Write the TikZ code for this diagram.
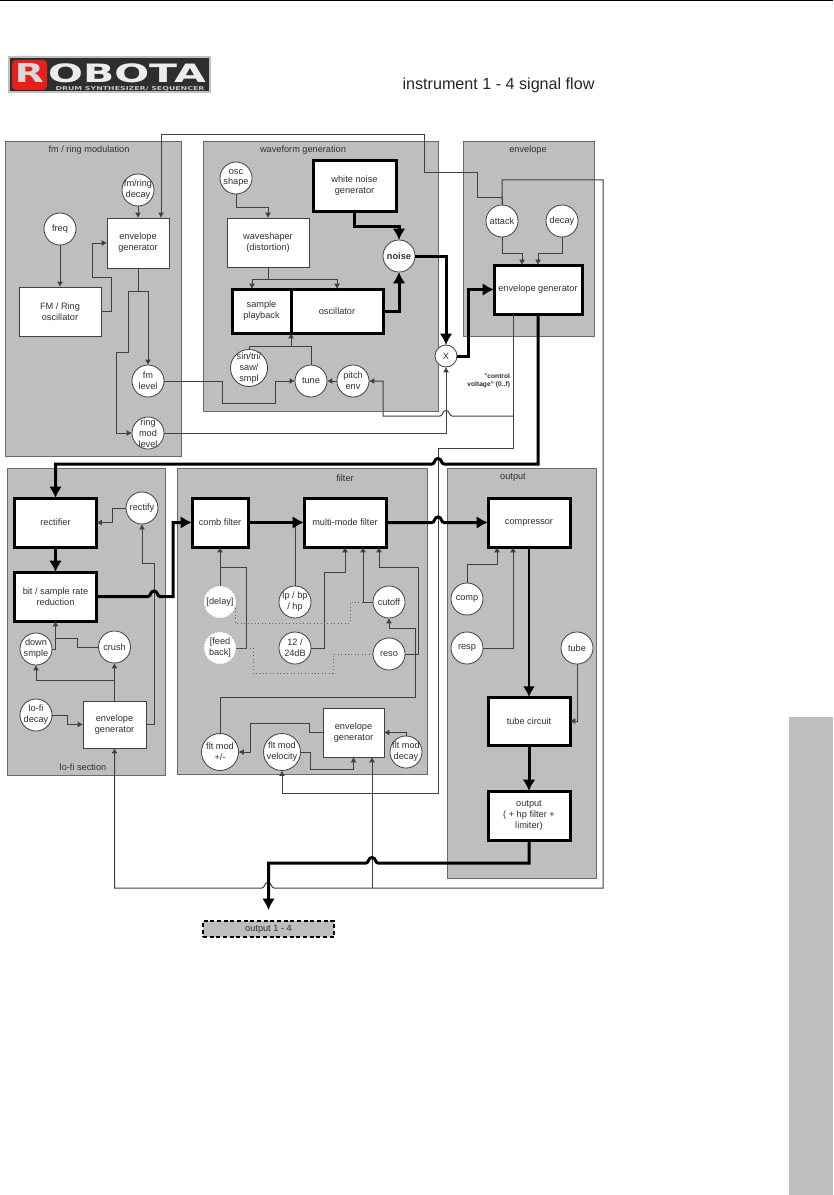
\documentclass[tikz,border=0pt]{standalone}
\usepackage{fontspec}
\setmainfont{Liberation Sans}
\newfontfamily\logofont{DejaVu Sans}
\usepackage{xcolor}
\usetikzlibrary{arrows.meta,shapes.geometric}
\definecolor{robpanel}{HTML}{BEBEBE}
\definecolor{robedge}{HTML}{6A6A6A}
\definecolor{robwire}{HTML}{404040}
\definecolor{robtext}{HTML}{303030}
\definecolor{robtab}{HTML}{BDBEC0}
\definecolor{robred}{HTML}{E8201C}
\definecolor{roblogo}{HTML}{2E2E2E}
\newcommand{\hopright}[2]{-- (#1-6,#2) .. controls (#1-3,#2) and (#1-4,#2-5.5) .. (#1,#2-5.5) .. controls (#1+4,#2-5.5) and (#1+3,#2) .. (#1+6,#2)}
\newcommand{\hopleft}[2]{-- (#1+6,#2) .. controls (#1+3,#2) and (#1+4,#2-5.5) .. (#1,#2-5.5) .. controls (#1-4,#2-5.5) and (#1-3,#2) .. (#1-6,#2)}
\begin{document}
\begin{tikzpicture}[
  x=0.75pt,y=-0.75pt,
  wh/.style 2 args={minimum width=#1*0.75pt,minimum height=#2*0.75pt},
  base/.style={rectangle,align=center,inner sep=0pt,outer sep=0pt,font=\fontsize{6.9}{8.2}\selectfont,text=robtext},
  panel/.style={base,draw=robedge,line width=0.7pt,fill=robpanel},
  caption/.style={base},
  thinbox/.style={base,draw=robwire,line width=0.6pt,fill=white},
  fatbox/.style={base,draw=black,line width=2.25pt,fill=white},
  knob/.style={circle,inner sep=0pt,outer sep=0pt,minimum size=32*0.75pt,draw=robwire,line width=0.6pt,fill=white,
    label={[base,label distance=0pt]center:#1}},
  bigknob/.style={knob={#1},minimum size=37*0.75pt},
  ghostknob/.style={knob={#1},draw=gray!60,dotted},
  wire/.style={draw=robwire,line width=0.75pt},
  wirea/.style={wire,-{Latex[length=4pt,width=4.5pt]}},
  dotwire/.style={draw=robwire!80,line width=0.6pt,dotted},
  fat/.style={draw=black,line width=2.25pt},
  fata/.style={fat,-{Latex[length=8.5pt,width=9.5pt]}},
  mida/.style={draw=black,line width=1.5pt,-{Latex[length=8pt,width=9pt]}}
]
\useasboundingbox (0,0) rectangle (833,1195);
\fill[white] (0,0) rectangle (833,1195);
\draw[black,line width=1.2pt] (0,0.7) -- (833,0.7);
\fill[robtab] (789,717) rectangle (833,1195);

\node[base,wh={201}{35},draw=gray!50,line width=0.8pt,fill=roblogo] (logo) at (109.5,74.5) {};
\node[base,wh={35}{30},fill=robred,rounded corners=3pt] (logored) at (29.5,75) {};
\node[base,font=\logofont\bfseries\fontsize{19.5}{19.5}\selectfont,text=gray!30,xscale=1.45] (logor) at (29.5,73.5) {R};
\node[base,font=\logofont\bfseries\fontsize{19}{19}\selectfont,text=gray!15,xscale=1.62] (logoname) at (127,73) {OBOTA};
\node[base,font=\logofont\bfseries\fontsize{4}{4}\selectfont,text=gray!45,xscale=1.47] (logosub) at (130,89) {DRUM SYNTHESIZER/ SEQUENCER};
\node[base,font=\fontsize{12.1}{13}\selectfont,text=black!85] (title) at (498.5,85) {instrument 1 - 4 signal flow};

\node[panel,wh={176}{315}] (fmpanel) at (93,298.5) {};
\node[panel,wh={235}{270}] (wavepanel) at (320.5,276) {};
\node[panel,wh={131}{195}] (envpanel) at (528.5,238.5) {};
\node[panel,wh={158}{307}] (lofipanel) at (86,621.5) {};
\node[panel,wh={250}{306}] (filterpanel) at (302.5,621) {};
\node[panel,wh={149}{410}] (outpanel) at (521.5,673) {};
\node[caption] (fmcap) at (89,150) {fm / ring modulation};
\node[caption] (wavecap) at (303,150) {waveform generation};
\node[caption] (envcap) at (528,150) {envelope};
\node[caption] (lofitext) at (83,767) {lo-fi section};
\node[caption] (filtercap) at (345,478) {filter};
\node[caption] (outcap) at (513,477) {output};

\node[knob={fm/ring\\decay}] (fmdecay) at (138,190) {};
\node[knob={freq}] (freq) at (60,229) {};
\node[thinbox,wh={62}{50}] (fmenv) at (138,243) {envelope\\generator};
\node[thinbox,wh={82}{49}] (fmosc) at (60,311.5) {FM / Ring\\oscillator};
\node[knob={fm\\level}] (fmlevel) at (148,381) {};
\node[knob={ring\\mod\\level}] (ringlevel) at (148,433) {};

\node[knob={osc\\shape}] (oscshape) at (236,178) {};
\node[thinbox,wh={82}{49}] (waveshaper) at (268,242.5) {waveshaper\\(distortion)};
\node[fatbox,wh={83}{50}] (whitenoise) at (354.5,186) {white noise\\generator};
\node[knob={\textbf{noise}}] (noise) at (399,256) {};
\node[fatbox,wh={59}{44}] (sample) at (261.5,311) {sample\\playback};
\node[fatbox,wh={92}{44}] (osc) at (337,311) {oscillator};
\node[bigknob={sin/tri/\\saw/\\smpl}] (sintri) at (249,368) {};
\node[knob={tune}] (tune) at (311,381) {};
\node[knob={pitch\\env}] (pitchenv) at (353,381) {};
\node[knob={X},minimum size=22*0.75pt] (xmix) at (446,356) {};

\node[knob={attack}] (attack) at (502,221) {};
\node[knob={decay}] (decay) at (562,221) {};
\node[fatbox,wh={88}{49}] (envmain) at (538,289.5) {envelope generator};
\node[base,align=right,anchor=east,font=\fontsize{5}{6.2}\selectfont\bfseries] (cvtext) at (510,381) {"control\\voltage" (0..f)};

\node[fatbox,wh={82}{49}] (rectifier) at (55.5,522.5) {rectifier};
\node[fatbox,wh={82}{49}] (bitred) at (55.5,596.5) {bit / sample rate\\reduction};
\node[knob={rectify}] (rectify) at (142,508) {};
\node[knob={down\\smple}] (downsmp) at (36,649) {};
\node[knob={crush}] (crush) at (114.5,647) {};
\node[knob={lo-fi\\decay}] (lofidecay) at (36,715) {};
\node[thinbox,wh={63}{47}] (lofienv) at (114.5,724.5) {envelope\\generator};

\node[fatbox,wh={56}{49}] (comb) at (220,522.5) {comb filter};
\node[fatbox,wh={82}{49}] (multi) at (345,522.5) {multi-mode filter};
\node[ghostknob={[delay]}] (delay) at (220,602) {};
\node[ghostknob={[feed\\back]}] (feedback) at (220,648) {};
\node[knob={lp / bp\\/ hp}] (lpbp) at (295,602) {};
\node[knob={12 /\\24dB}] (slope) at (295,648) {};
\node[knob={cutoff}] (cutoff) at (389,602) {};
\node[knob={reso}] (reso) at (389,654) {};
\node[bigknob={flt mod\\+/-}] (fltpm) at (220,752) {};
\node[bigknob={flt mod\\velocity}] (fltvel) at (282,752) {};
\node[knob={flt mod\\decay}] (fltdecay) at (406,752) {};
\node[thinbox,wh={61}{49}] (fltenv) at (353.5,732.5) {envelope\\generator};

\node[fatbox,wh={82}{49}] (compressor) at (529,522.5) {compressor};
\node[knob={comp}] (comp) at (467,599) {};
\node[knob={resp}] (resp) at (467,648) {};
\node[knob={tube}] (tubeknob) at (577,648) {};
\node[fatbox,wh={82}{48}] (tubecirc) at (529,721) {tube circuit};
\node[fatbox,wh={82}{49}] (outbox) at (529,815.5) {output\\( + hp filter +\\limiter)};
\node[base,wh={131}{16},draw=black,line width=1.1pt,densely dashed,fill=robpanel] (out14) at (268.5,929) {output 1 - 4};
\coordinate (outtip) at (268.5,910);

\draw[wirea] (fmdecay.south) -- (fmenv.north);
\draw[wirea] (freq.south) -- (fmosc.north);
\draw[wirea] (fmosc.east) -- (111,311.5) -- (111,277) -- (92,277) -- (92,243) -- (fmenv.west);
\draw[wirea] (fmenv.south) -- (138,291) -- (148,291) -- (fmlevel.north);
\draw[wirea] (138,291) -- (128,291) -- (128,352) -- (116,352) -- (116,433) -- (ringlevel.west);
\draw[wirea] (fmlevel.east) -- (222,381) -- (222,403) -- (275,403) -- (275,381) -- (tune.west);
\draw[wire] (sintri.north) -- (249,346) -- (311,346) -- (tune.north);
\draw[wirea] (291,346) -- (osc.south west);
\draw[wirea] (pitchenv.west) -- (tune.east);
\draw[wirea] (oscshape.south) -- (236,207) -- (268,207) -- (waveshaper.north);
\draw[wirea] (waveshaper.south) -- (268,279) -- (252,279) -- (sample.north -| 252,0);
\draw[wirea] (268,279) -- (337,279) -- (osc.north);
\draw[wirea] (attack.south) -- (502,253) -- (522,253) -- (envmain.north -| 522,0);
\draw[wirea] (decay.south) -- (562,253) -- (538,253) -- (envmain.north);
\draw[wirea] (attack.north) -- (502,197) -- (477,197) -- (477,173) -- (424,173) -- (424,135) -- (161,135) -- (fmenv.north -| 161,0);
\draw[wirea] (attack.north) -- (502,180) -- (603,180) -- (603,888) \hopleft{268}{888} -- (114.5,888) -- (lofienv.south);
\draw[wirea] (372,888) -- (fltenv.south -| 372,0);
\draw[wirea] (envmain.south -| 513,0) -- (513,448) -- (438,448) -- (438,793) -- (282,793) -- (fltvel.south);
\draw[wirea] (ringlevel.east) -- (446,433) -- (xmix.south);
\draw[wirea] (513,416) \hopleft{446}{416} -- (383,416) -- (383,381) -- (pitchenv.east);

\draw[wirea] (rectify.west) -- (112,508) -- (112,522.5) -- (rectifier.east);
\draw[wirea] (downsmp.east) -- (55.5,649) -- (bitred.south);
\draw[wire] (crush.west) -- (77,647) -- (77,638) -- (55.5,638);
\draw[wirea] (lofienv.north) -- (crush.south);
\draw[wirea] (114.5,680) -- (36,680) -- (downsmp.south);
\draw[wirea] (lofidecay.east) -- (67,715) -- (67,724.5) -- (lofienv.west);
\draw[wirea] (lofienv.east) -- (154,724.5) -- (154,563) -- (142,563) -- (rectify.south);

\draw[wire] (lpbp.north) -- (lpbp.north |- comb.east);
\draw[wirea] (delay.north) -- (comb.south);
\draw[wire] (feedback.east) -- (246,648) -- (246,567) -- (220,567);
\draw[wirea] (slope.east) -- (324,648) -- (324,572) -- (345,572) -- (multi.south);
\draw[wirea] (cutoff.west) -- (363,602) -- (multi.south -| 363,0);
\draw[wirea] (reso.east) -- (418,654) -- (418,567) -- (379,567) -- (multi.south -| 379,0);
\draw[dotwire] (235,608) -- (235,623) -- (350,623) -- (350,602) -- (cutoff.west);
\draw[dotwire] (feedback.east) -- (253,648) -- (253,673) -- (333,673) -- (333,654) -- (reso.west);
\draw[wirea] (fltpm.north) -- (220,697) -- (415,697) -- (415,628) -- (389,628) -- (cutoff.south);
\draw[wirea] (fltenv.west) -- (309,732.5) -- (309,723) -- (250,723) -- (250,752) -- (fltpm.east);
\draw[wirea] (fltvel.east) -- (310,752) -- (310,769) -- (353.5,769) -- (fltenv.south);
\draw[wirea] (fltdecay.north) -- (406,732.5) -- (fltenv.east);

\draw[wirea] (comp.north) -- (467,564) -- (497,564) -- (compressor.south -| 497,0);
\draw[wirea] (resp.east) -- (513,648) -- (compressor.south -| 513,0);
\draw[wirea] (tubeknob.south) -- (577,721) -- (tubecirc.east);

\draw[fata] (whitenoise.south) -- (354.5,226) -- (399,226) -- (noise.north);
\draw[fata] (osc.east) -- (399,311) -- (noise.south);
\draw[fata] (noise.east) -- (446,256) -- (xmix.north);
\draw[fata] (xmix.east) -- (468,356) -- (468,289.5) -- (envmain.west);
\draw[fata] (envmain.south) -- (538,464) \hopleft{438}{464} -- (55.5,464) -- (rectifier.north);
\draw[fata] (rectifier.south) -- (bitred.north);
\draw[fata] (bitred.east) \hopright{154}{596.5} -- (173,596.5) -- (173,522.5) -- (comb.west);
\draw[fata] (comb.east) -- (multi.west);
\draw[fata] (multi.east) \hopright{438}{522.5} -- (compressor.west);
\draw[mida] (compressor.south) -- (tubecirc.north);
\draw[fata] (tubecirc.south) -- (outbox.north);
\draw[fata] (outbox.south) -- (529,863) \hopleft{372}{863} -- (268.5,863) -- (outtip);
\end{tikzpicture}
\end{document}
